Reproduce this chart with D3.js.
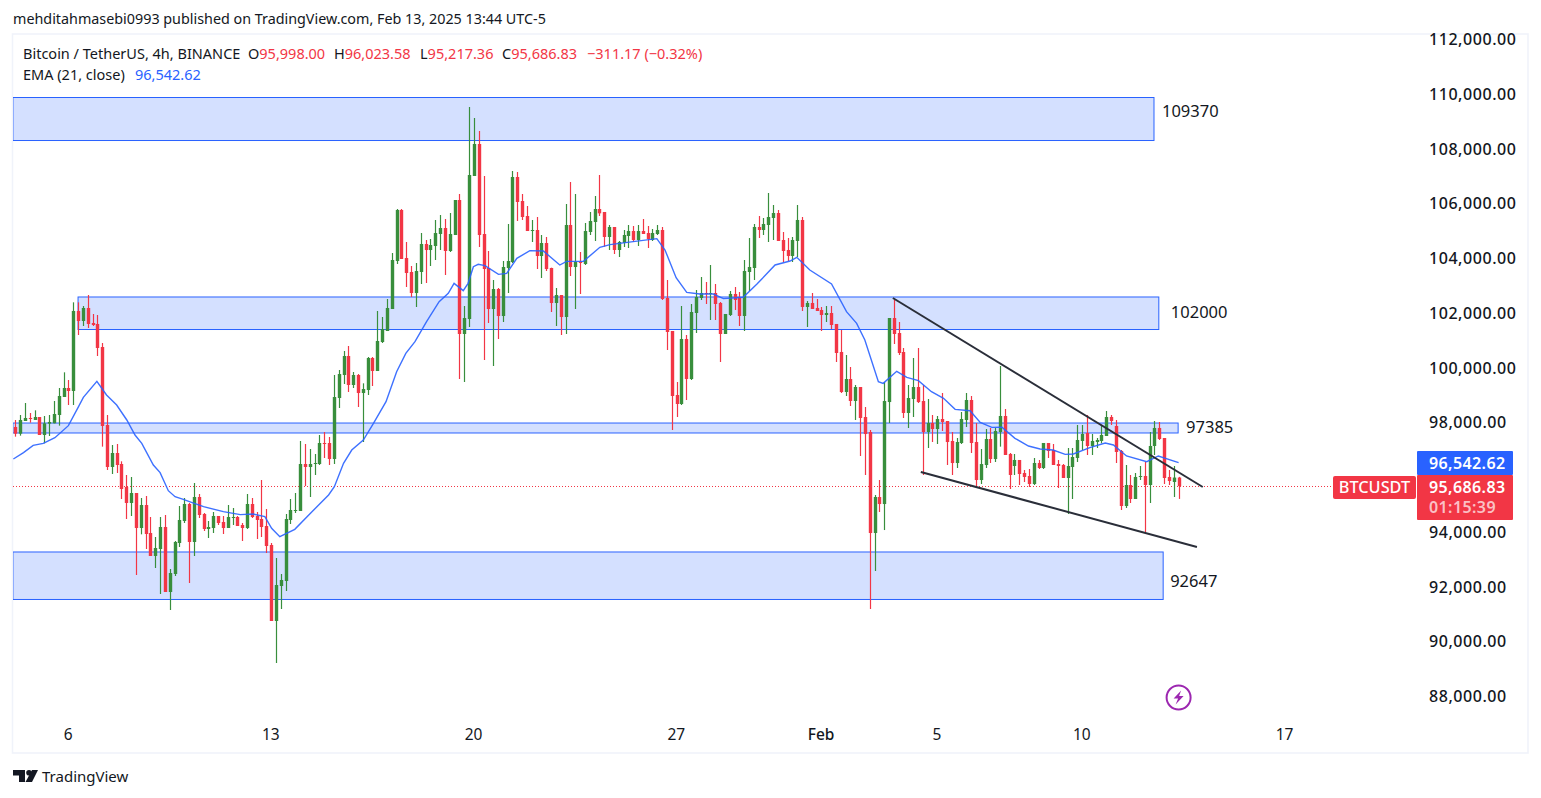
<!DOCTYPE html>
<html><head><meta charset="utf-8">
<style>
html,body{margin:0;padding:0;background:#fff;overflow:hidden}
svg{display:block}
text{font-family:"Noto Sans",sans-serif}
</style>
<script src="https://cdn.jsdelivr.net/npm/d3@7/dist/d3.min.js"></script>
</head><body>
<svg id="c" width="1541" height="798"></svg>
<script>
const opens=[97845,97601,98064,98174,98101,98210,97553,97967,97979,98283,
98941,99270,99160,102083,101717,102192,101644,101608,100767,97918,
96384,96895,96493,95653,95069,95434,94155,94995,93973,93133,
93388,94192,91817,92475,93607,94411,95032,93644,95288,94667,
94119,94155,94594,94375,94155,94521,94557,94265,94155,95032,
94594,94484,94228,93534,90758,92037,92219,94448,94776,94776,
96493,96383,96505,96493,97260,97260,96676,98904,99744,100438,
99379,99744,99086,99196,100365,99890,100950,101351,102155,103908,
105772,104018,103507,102739,103507,104530,104310,104456,104895,105114,
104274,104858,106137,101242,101790,107014,108183,104895,103653,102155,
102886,101899,103653,103872,106977,106100,105552,105004,105041,104091,
104566,103653,102374,102666,101863,105224,103689,103872,103799,104968,
105333,105808,105699,104786,105151,104311,104567,104822,105005,104676,
105005,104932,104676,104895,105041,102557,101352,99014,98685,101060,
99598,102009,102557,102740,102704,102740,102375,101242,101936,102704,
102594,101900,103507,103653,105151,105041,105224,105480,105662,104676,
104311,104092,104640,105407,102229,102375,102192,102119,101936,102009,
101608,100585,99123,99598,98795,99306,98210,97662,93972,95287,
95031,98757,101826,101278,100584,98356,98867,99305,98794,97662,
97990,97771,98137,98064,97333,96529,97260,98100,98831,97296,
95908,96456,97406,96675,97662,98247,96859,96420,96640,96165,
96055,95763,96530,96347,97261,97005,96493,96457,95982,96384,
96713,97334,97626,97151,97297,97334,97516,98210,97882,96968,
94959,95726,95215,96019,96055,95726,97151,97809,97443,96019,
95836,95998];
const highs=[98101,98283,98722,98356,98454,98210,98247,98283,98795,99270,
99842,99562,102399,102399,102265,102667,101973,101936,100913,98283,
97187,97224,96591,96091,96018,95434,95251,95324,94557,93827,
94557,94630,92658,93680,94959,95251,95069,95799,95398,94703,
94411,94740,94594,94594,94995,94886,94594,94338,95398,95251,
94740,95909,94849,93607,93059,92475,94667,95215,95434,97333,
97224,97041,96858,97552,97662,97479,99744,99927,100621,100803,
99853,99780,99440,100401,100401,102082,101863,102520,104201,105808,
105808,104603,103726,103835,104931,104676,104712,105406,105589,105443,
105662,106137,106356,102265,109534,109132,108658,107014,104274,103214,
102922,103908,105260,107196,107160,106356,105918,105406,105516,104858,
104785,103665,102922,102666,105991,106794,106356,104237,105297,105698,
106283,107050,105699,105224,105151,104640,105042,105224,105188,105224,
105443,105188,105078,105224,105151,103215,101352,99489,102265,101206,
102338,102850,103324,103142,103763,103069,102411,101973,102813,102959,
102777,103945,104749,105261,105553,105480,106393,105955,105772,104968,
104749,104786,105955,105516,102448,102740,102521,102229,102265,102265,
101608,101388,100475,100037,99379,99306,98575,97735,95360,95908,
99488,101826,102484,101680,100730,99379,100365,100730,99379,98867,
98283,98246,99086,98064,97662,97442,98392,99086,98977,97990,
97041,97771,97808,97808,100073,98503,96895,96859,96640,96274,
96311,96713,96640,97261,97261,97224,96640,96493,97078,97078,
97918,97918,98283,97589,97443,97918,98430,98283,98101,97005,
96457,96092,96165,96420,96566,97662,98064,98028,97443,96274,
96420,96023.58];
const lows=[97492,97528,98064,98003,98101,97553,97248,97516,97979,97894,
98941,98649,98649,101206,101535,101462,101535,100439,97127,96274,
96128,96165,95215,94484,94594,92438,93924,93388,93133,92694,
91744,91817,91160,92402,93461,94338,92146,93133,94521,94046,
93790,93973,94265,93936,94155,94265,94228,93680,94119,94521,
93753,93826,93242,90758,89224,91196,91854,94301,94703,94776,
95690,95287,96091,96456,96712,96456,96493,98539,99415,99123,
99269,98575,97296,99013,99342,99890,100913,101351,102155,103799,
103982,102959,102593,102228,103068,103105,103726,103945,104310,103397,
104237,104858,99598,99488,101497,107014,104420,100292,101644,100073,
101059,101680,102739,103835,105370,105406,105004,104603,103616,103287,
103543,102045,101534,101205,101242,103361,102155,102703,103762,104858,
104639,105552,104433,104311,104165,104055,104420,104384,104603,104457,
104895,104384,104640,104859,102484,100658,97735,98210,98648,98831,
99562,101279,102484,102338,101754,101754,100219,101242,101900,102119,
101534,101352,102813,103215,104749,104859,104603,104676,104640,103872,
103909,103872,104055,102082,101498,102156,102082,101352,101680,101425,
100219,99087,98977,98612,98100,96785,96091,91196,92584,94739,
94081,97990,100876,100475,98173,97808,98210,98721,96091,97077,
97296,97223,97698,96456,96091,96346,97223,97844,96894,95616,
95762,96346,96529,96566,97127,96822,95580,96092,95726,95836,
95653,95726,96311,96311,96713,96457,95617,95982,94667,95215,
96566,97005,96822,96822,97078,97248,97516,97918,96530,94813,
94886,95069,95215,95909,94009,95069,96822,97370,95763,95726,
95288,95217.36];
const closes=[97601,98101,98174,98150,98210,97553,97979,98028,98320,98977,
99270,99160,102083,101717,102192,101608,101571,100731,97882,96384,
96895,96457,95580,95069,95434,94155,94995,93936,93133,93425,
94192,91817,92511,93644,94448,95032,93644,95288,94630,94119,
94192,94594,94338,94155,94557,94557,94228,94155,95032,94557,
94448,94192,93498,90758,92073,92256,94484,94813,94813,96493,
96384,96493,96530,97260,97224,96676,98940,99780,100438,99379,
99744,99086,99232,100365,99890,100986,101424,102192,103945,105772,
103982,103470,102739,103543,104530,104310,104493,104931,105114,104274,
104895,106137,101242,101826,107050,108183,104858,103616,102155,102886,
101899,103689,103908,106977,106064,105516,105004,105041,104091,104566,
103616,102374,102666,101863,105224,103689,103872,103835,105004,105370,
105808,105650,104786,105151,104311,104603,104859,105005,104676,105005,
104895,104713,104932,105041,102521,101315,98977,98685,101060,99598,
102046,102594,102740,102704,102740,102338,101242,101973,102704,102484,
101900,103544,103690,105151,105041,105261,105516,105662,104640,104274,
104092,104676,105407,102229,102375,102156,102082,101936,102009,101571,
100548,99123,99598,98795,99306,98174,97588,93972,95287,95031,
98794,101826,101242,100548,98356,98904,99305,98757,97662,97990,
97771,98137,98027,97296,96529,97296,98137,98831,97260,95908,
96492,97406,96675,97698,98247,96822,96092,96640,96128,96019,
95763,96530,96347,97261,96968,96457,96420,95982,96420,96749,
97370,97589,97151,97334,97370,97553,98210,98064,96932,94959,
95726,95215,96019,96055,95726,97151,97809,97407,95982,95873,
95998,95686.83];
const emaIndex=[-0.4,1.7,3.7,5.8,8.2,11,13.1,14.1,16.9,18.9,21,23.1,24.8,26.2,28.6,30,31.7,33.1,34.8,36.5,39,43.1,46.6,49.3,51.7,53.1,54.8,57.9,61,64.9,66.1,68,69.7,72.1,74.2,76.8,79,80.9,82.8,85.2,87.8,89.7,90.9,92.8,93.8,94.9,95.9,97.3,100.1,101.8,103.9,106.6,109.4,112.8,114.2,117.7,121.1,123.2,128,132.9,134.6,136.9,139.1,141.8,144.6,146.7,150.8,153.6,157.4,160.5,161.9,164.6,169.1,172.2,174.3,176,178.8,179.8,182.6,184.7,187.1,189.8,192.3,194.7,197.8,199.9,202.3,204.4,207.1,209.9,212.3,215,217.5,219.2,222.6,225.8,227.5,230.2,234.4,236.8,241];
const emaValues=[96676,96907,97175,97248,97455,97894,98588,98929,99513,99014,98649,98101,97553,97248,96457,96177,95519,95300,95202,95093,94935,94752,94643,94667,94569,94143,93839,94106,94667,95361,95665,96517,97004,97370,97978,98770,99866,100535,100962,101692,102423,102727,103093,102825,103093,103701,103787,103738,103421,103458,104006,104286,104274,103762,103896,103896,104408,104506,104615,104725,104311,103300,102764,102703,102703,102533,102582,103057,103763,103909,104043,103580,103069,102058,101632,101023,99501,99440,99878,99659,99537,99135,98892,98490,98441,98015,97832,97833,97431,97151,97041,97005,96846,96859,97090,97261,97188,96786,96579,96786,96542.62];
const zoneLabels=["109370","102000","97385","92647"];
const zoneTop=[109881,102594,97990,93279];
const zoneBottom=[108310,101406,97626,91544];
const zoneStart=[-0.5,13,-0.5,-0.5];
const zoneEnd=[235.9,236.9,240.9,237.8];
const trendStartIndex=[181.8,187.6];
const trendStartPrice=[102557,96201];
const trendEndIndex=[246,244.8];
const trendEndPrice=[95653,93461];
const priceTicks=[88000,90000,92000,94000,98000,100000,102000,104000,106000,108000,110000,112000];
const timeTickIndex=[11,53,95,137,167,191,221,263];
const timeTickLabels=["6","13","20","27","Feb","5","10","17"];
const lastPrice=95686.83, lastEma=96542.62;

const GREEN="#388e3c",RED="#f23645",BLUE="#2962ff",INK="#131722";
const svg=d3.select("#c");
const x=d3.scaleLinear().domain([0,241]).range([15.3,15.3+241*4.827]);
const y=d3.scaleLinear().domain([88000,112000]).range([696.5,39.5]);

// chart frame
svg.append("rect").attr("x",12.5).attr("y",34).attr("width",1515.5).attr("height",719)
  .attr("fill","#fff").attr("stroke","#f0f3fa").attr("stroke-width",1.6);
svg.append("defs").append("clipPath").attr("id","pane").append("rect")
  .attr("x",13).attr("y",35).attr("width",1404).attr("height",717);
const pane=svg.append("g").attr("clip-path","url(#pane)");

// zones
const labelDx=[8,12,8,7], labelDy=[-7.5,-1,-1,5];
zoneLabels.forEach((t,k)=>{
  const zx0=x(zoneStart[k]),zx1=x(zoneEnd[k]),y0=y(zoneTop[k]),y1=y(zoneBottom[k]);
  pane.append("rect").attr("x",zx0).attr("y",y0).attr("width",zx1-zx0).attr("height",y1-y0)
    .attr("fill","rgba(41,98,255,0.2)").attr("stroke",BLUE).attr("stroke-width",1);
  svg.append("text").attr("x",zx1+labelDx[k]).attr("y",(y0+y1)/2+labelDy[k]).attr("dy","0.36em")
    .attr("font-size",16.5).attr("fill",INK).text(t);
});

// last price dotted line
pane.append("line").attr("x1",13).attr("x2",1333).attr("y1",Math.round(y(lastPrice))+.5).attr("y2",Math.round(y(lastPrice))+.5)
  .attr("stroke",RED).attr("stroke-width",1).attr("stroke-dasharray","1 2");

// candles
const idx=d3.range(opens.length);
const col=i=>closes[i]>=opens[i]?GREEN:RED;
const px=i=>Math.round(x(i))+.5;
pane.append("g").selectAll("line").data(idx).join("line")
  .attr("x1",px).attr("x2",px).attr("y1",i=>y(highs[i])).attr("y2",i=>y(lows[i]))
  .attr("stroke",col).attr("stroke-width",1.2);
pane.append("g").selectAll("rect").data(idx).join("rect")
  .attr("x",i=>px(i)-1.7).attr("width",3.4)
  .attr("y",i=>y(Math.max(opens[i],closes[i])))
  .attr("height",i=>Math.max(1,Math.abs(y(opens[i])-y(closes[i]))))
  .attr("fill",col);

// EMA
pane.append("path").datum(d3.range(emaIndex.length))
  .attr("d",d3.line().x(k=>x(emaIndex[k])).y(k=>y(emaValues[k])))
  .attr("fill","none").attr("stroke",BLUE).attr("stroke-width",1.4).attr("stroke-opacity",.9);

// trend lines
trendStartIndex.forEach((s,k)=>{
  pane.append("line").attr("x1",x(s)).attr("y1",y(trendStartPrice[k])).attr("x2",x(trendEndIndex[k])).attr("y2",y(trendEndPrice[k]))
    .attr("stroke","#2a2e39").attr("stroke-width",2);
});

// price axis (labels left-aligned in the scale column)
const ay=svg.append("g").attr("transform","translate(1429,0)")
  .call(d3.axisRight(y).tickValues(priceTicks).tickSize(0).tickPadding(0).tickFormat(d3.format(",.2f")));
ay.select(".domain").remove();
ay.selectAll("text").attr("font-family","'Noto Sans',sans-serif").attr("font-size",16).attr("font-weight",500).attr("letter-spacing",0.55).attr("fill",INK).attr("text-anchor","start");

// time axis
const ax=svg.append("g").attr("transform","translate(-0.8,729)")
  .call(d3.axisBottom(x).tickValues(timeTickIndex).tickSize(0).tickPadding(0).tickFormat((d,k)=>timeTickLabels[k]));
ax.select(".domain").remove();
ax.selectAll("text").attr("font-family","'Noto Sans',sans-serif").attr("font-size",15.5).attr("fill",INK).attr("font-weight",d=>d==167?500:400);

// header
svg.append("text").attr("x",13).attr("y",24).attr("font-size",14.34).attr("fill",INK)
  .text("mehditahmasebi0993 published on TradingView.com, Feb 13, 2025 13:44 UTC-5");
const l1=svg.append("text").attr("x",23).attr("y",59).attr("font-size",14.5).attr("fill",INK);
l1.append("tspan").text("Bitcoin / TetherUS, 4h, BINANCE");
[["O","95,998.00",248],["H","96,023.58",334],["L","95,217.36",420],["C","95,686.83",502]].forEach(([a,b,px0])=>{
  l1.append("tspan").attr("x",px0).text(a);
  l1.append("tspan").attr("fill",RED).text(b);
});
l1.append("tspan").attr("x",587).attr("fill",RED).text("\u2212311.17 (\u22120.32%)");
const l2=svg.append("text").attr("x",23).attr("y",80).attr("font-size",14.5).attr("fill",INK);
l2.append("tspan").text("EMA (21, close)");
l2.append("tspan").attr("x",135).attr("fill",BLUE).text("96,542.62");

// price tags
svg.append("rect").attr("x",1417).attr("y",451).attr("width",96).attr("height",24).attr("rx",1).attr("fill",BLUE);
svg.append("text").attr("x",1429).attr("y",463).attr("dy","0.36em").attr("font-size",16).attr("font-weight",600).attr("letter-spacing",0.4).attr("fill","#fff").text(d3.format(",.2f")(lastEma));
svg.append("rect").attr("x",1417).attr("y",475).attr("width",96).attr("height",45).attr("rx",1).attr("fill",RED);
svg.append("text").attr("x",1429).attr("y",487).attr("dy","0.36em").attr("font-size",16).attr("font-weight",600).attr("letter-spacing",0.4).attr("fill","#fff").text(d3.format(",.2f")(lastPrice));
svg.append("text").attr("x",1429).attr("y",507).attr("dy","0.36em").attr("font-size",16).attr("font-weight",600).attr("letter-spacing",0.4).attr("fill","#fff").attr("fill-opacity",.7).text("01:15:39");
svg.append("rect").attr("x",1333).attr("y",476).attr("width",83).attr("height",23).attr("rx",2).attr("fill",RED);
svg.append("text").attr("x",1374.5).attr("y",487.5).attr("dy","0.36em").attr("text-anchor","middle").attr("font-size",16.3).attr("font-weight",500).attr("fill","#fff").text("BTCUSDT");

// bolt icon
const bolt=svg.append("g").attr("transform","translate(1178.6,697.5)");
bolt.append("circle").attr("r",12).attr("fill","#fff").attr("stroke","#9c27b0").attr("stroke-width",2);
bolt.append("path").attr("d","M2.5,-7 L-5,1 L-0.5,1 L-3,7 L5,-1.5 L0.5,-1.5 Z").attr("fill","#9c27b0");

// logo
const logo=svg.append("g").attr("transform","translate(13,770)").attr("fill",INK);
logo.append("path").attr("d","M0,0 H12 V12 H6 V5.5 H0 Z");
logo.append("circle").attr("cx",16).attr("cy",2.8).attr("r",2.8);
logo.append("path").attr("d","M19,0 H25 L19,12 H12.5 Z");
svg.append("text").attr("x",42).attr("y",782).attr("font-size",15).attr("fill",INK).text("TradingView");
</script>
</body></html>
